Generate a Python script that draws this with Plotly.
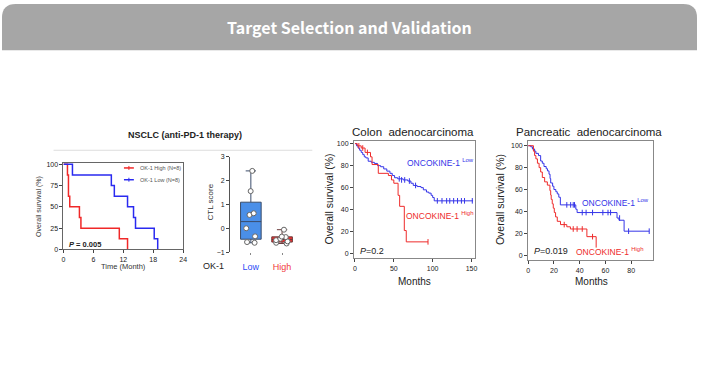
import plotly.graph_objects as go

# ---------------- data ----------------
# NSCLC (anti-PD-1) Kaplan-Meier (months, % survival)
nsclc_high_t = [0, 0.8, 1.0, 1.26, 3.2, 3.5, 11.2, 12.85]
nsclc_high_s = [100, 87.5, 62.5, 50, 37.5, 25, 12.5, 0]
nsclc_low_t = [0, 1.8, 9.6, 10.2, 12.85, 14.05, 14.45, 18.2, 18.9]
nsclc_low_s = [100, 87.5, 75, 62.5, 50, 37.5, 25, 12.5, 0]
nsclc_ticks = [0, 6, 12, 18, 24]
nsclc_yticks = [0, 25, 50, 75, 100]
nsclc_legend = ["OK-1 High (N=8)", "OK-1 Low (N=8)"]

# CTL score box plot
ctl_groups = ["Low", "High"]
ctl_low = [2.41, 1.56, 0.63, 0.56, 0.0, -0.34, -0.58, -0.61]
ctl_high = [-0.06, -0.35, -0.37, -0.44, -0.50, -0.55, -0.61, -0.64]
ctl_yticks = [-1, 0, 1, 2, 3]

# Colon adenocarcinoma KM
colon_low_t = [0, 2, 4, 6, 8, 10, 12, 14, 17, 21, 25, 29, 33, 37, 41, 45, 48, 51, 55,
               62, 68, 72, 75, 80, 85, 88, 92, 95, 98, 100, 102, 152]
colon_low_s = [100, 98, 96, 94, 92, 90, 88, 87, 84, 83, 82, 80, 79, 77, 75, 73, 71, 69, 68,
               67, 66, 64, 62, 61, 60, 58, 56, 55, 53, 51, 48, 48]
colon_low_cens_t = [57, 60, 64, 70, 78, 106, 112, 118, 122, 127, 132, 137, 141, 151]
colon_low_cens_s = [68, 67, 67, 66, 62, 48, 48, 48, 48, 48, 48, 48, 48, 48]
colon_high_t = [0, 3, 8, 13, 20, 22, 30, 43, 47, 50, 55.5, 57.5, 63.5, 66, 94]
colon_high_s = [100, 98, 96, 92, 88, 81, 73, 71, 67, 64, 53, 43, 21, 10.7, 10.7]
colon_high_cens_t = [5, 10, 16, 94]
colon_high_cens_s = [98, 96, 92, 10.7]
colon_xticks = [0, 50, 100, 150]
colon_yticks = [0, 20, 40, 60, 80, 100]

# Pancreatic adenocarcinoma KM
panc_low_t = [0, 2, 3.3, 5, 6, 8, 9.7, 11, 12.3, 14, 15, 16.2, 17, 17.5, 19, 20, 21.5,
              22.6, 23.8, 25, 37, 38, 69, 70.5, 74.5, 94]
panc_low_s = [100, 99, 97, 95, 93, 91, 86, 84, 81, 79, 77, 74, 70, 66, 63, 60, 58,
              56, 53, 46, 42, 39, 34, 32, 22, 22]
panc_low_cens_t = [30, 33, 35, 36, 42, 45, 50, 58, 62, 64, 71, 78, 94]
panc_low_cens_s = [46, 46, 46, 46, 39, 39, 39, 39, 39, 39, 34, 22, 22]
panc_high_t = [0, 4.1, 5, 6, 7.2, 8.5, 9.7, 11, 12.8, 14.9, 16.9, 17.5, 17.9, 18.7,
               19.5, 20.3, 21.3, 22.6, 25.1, 30, 32.8, 45.6, 52.8]
panc_high_s = [100, 95, 91, 88, 84, 80, 76, 71, 67, 64, 59, 55, 51, 47,
               43, 39, 35, 31, 28, 26, 24, 17, 7]
panc_high_cens_t = [28, 35, 38, 42, 50]
panc_high_cens_s = [28, 24, 24, 24, 17]
panc_xticks = [0, 20, 40, 60, 80]
panc_yticks = [0, 20, 40, 60, 80, 100]

# ---------------- styling ----------------
W, H = 701, 382
FONT = "Arial, Liberation Sans, sans-serif"
RED = "#f02828"
BLUE = "#2a2af0"
RED_K = "#ee2b2b"
BLUE_K = "#3434e8"


def fx(p):
    return p / W


def fy(p):
    return 1 - p / H


fig = go.Figure()

# NSCLC
fig.add_trace(go.Scatter(x=nsclc_high_t, y=nsclc_high_s, mode="lines",
                         line=dict(color=RED, width=1.5, shape="hv"),
                         name=nsclc_legend[0], xaxis="x", yaxis="y", showlegend=False))
fig.add_trace(go.Scatter(x=nsclc_low_t, y=nsclc_low_s, mode="lines",
                         line=dict(color=BLUE, width=1.5, shape="hv"),
                         name=nsclc_legend[1], xaxis="x", yaxis="y", showlegend=False))

# CTL box plot
fig.add_trace(go.Box(y=ctl_low, x=[ctl_groups[0]] * len(ctl_low), xaxis="x2", yaxis="y2",
                     quartilemethod="exclusive", boxpoints="all", jitter=0.7, pointpos=0,
                     fillcolor="#4a8fe8", line=dict(color="#3b4d6b", width=1),
                     marker=dict(color="white", size=5, line=dict(color="#666", width=1)),
                     width=0.66, whiskerwidth=0.5, showlegend=False))
fig.add_trace(go.Box(y=ctl_high, x=[ctl_groups[1]] * len(ctl_high), xaxis="x2", yaxis="y2",
                     quartilemethod="exclusive", boxpoints="all", jitter=0.9, pointpos=0,
                     fillcolor="#f03232", line=dict(color="#6a3b3b", width=1),
                     marker=dict(color="white", size=5, line=dict(color="#666", width=1)),
                     width=0.66, whiskerwidth=0.5, showlegend=False))

# Colon
for t, s, ct, cs, c in [(colon_low_t, colon_low_s, colon_low_cens_t, colon_low_cens_s, BLUE_K),
                        (colon_high_t, colon_high_s, colon_high_cens_t, colon_high_cens_s, RED_K)]:
    fig.add_trace(go.Scatter(x=t, y=s, mode="lines", line=dict(color=c, width=1, shape="hv"),
                             xaxis="x3", yaxis="y3", showlegend=False))
    fig.add_trace(go.Scatter(x=ct, y=cs, mode="markers", xaxis="x3", yaxis="y3", showlegend=False,
                             marker=dict(symbol="line-ns-open", size=4, color=c,
                                         line=dict(color=c, width=1))))

# Pancreatic
for t, s, ct, cs, c in [(panc_low_t, panc_low_s, panc_low_cens_t, panc_low_cens_s, BLUE_K),
                        (panc_high_t, panc_high_s, panc_high_cens_t, panc_high_cens_s, RED_K)]:
    fig.add_trace(go.Scatter(x=t, y=s, mode="lines", line=dict(color=c, width=1, shape="hv"),
                             xaxis="x4", yaxis="y4", showlegend=False))
    fig.add_trace(go.Scatter(x=ct, y=cs, mode="markers", xaxis="x4", yaxis="y4", showlegend=False,
                             marker=dict(symbol="line-ns-open", size=4, color=c,
                                         line=dict(color=c, width=1))))

axis_common = dict(showgrid=False, zeroline=False, ticks="outside", ticklen=3,
                   tickcolor="#444", tickwidth=1, showline=True, linewidth=1,
                   tickfont=dict(family=FONT, size=7, color="#222"))

layout = dict(
    width=W, height=H, autosize=False,
    margin=dict(l=0, r=0, t=0, b=0),
    paper_bgcolor="white", plot_bgcolor="white",
    font=dict(family=FONT, color="#222"),
    showlegend=False,
    xaxis=dict(axis_common, domain=[fx(62), fx(182.7)], range=[0, 24], tickvals=nsclc_ticks,
               anchor="y", linecolor="#666", mirror=True),
    yaxis=dict(axis_common, domain=[fy(250), fy(161.7)], range=[0, 101.8], tickvals=nsclc_yticks,
               anchor="x", linecolor="#666", mirror=True),
    xaxis2=dict(axis_common, domain=[fx(230), fx(300)], range=[-0.667, 1.556], type="category",
                categoryorder="array", categoryarray=ctl_groups,
                tickvals=ctl_groups,
                ticktext=['<span style="color:#2d4cf5">Low</span>',
                          '<span style="color:#f03a3a">High</span>'],
                showline=False, ticklen=2, tickcolor="#888", ticklabelstandoff=4,
                tickfont=dict(family=FONT, size=9), anchor="y2"),
    yaxis2=dict(axis_common, domain=[fy(252.7), fy(155.7)], range=[-1, 3], tickvals=ctl_yticks,
                linecolor="#555", anchor="x2"),
    xaxis3=dict(axis_common, domain=[fx(355), fx(476.7)], range=[-1.3, 154], tickvals=colon_xticks,
                linecolor="#888", mirror=True, anchor="y3"),
    yaxis3=dict(axis_common, domain=[fy(259), fy(140)], range=[-4.2, 102], tickvals=colon_yticks,
                linecolor="#888", mirror=True, anchor="x3"),
    xaxis4=dict(axis_common, domain=[fx(530.7), fx(656.7)], range=[0, 97], tickvals=panc_xticks,
                linecolor="#888", mirror=True, anchor="y4"),
    yaxis4=dict(axis_common, domain=[fy(261), fy(140)], range=[-4.5, 103.9], tickvals=panc_yticks,
                linecolor="#888", mirror=True, anchor="x4"),
)
fig.update_layout(layout)

# header band with rounded top corners
rx, ry = 14 / W, 14 / H
yb = fy(47)
fig.add_shape(type="path", xref="paper", yref="paper", layer="below",
              path=f"M 0,{yb} L 0,{1-ry} Q 0,1 {rx},1 L {1-rx},1 Q 1,1 1,{1-ry} L 1,{yb} Z",
              fillcolor="#a6a6a6", line=dict(width=0))
# separator under NSCLC title
fig.add_shape(type="line", xref="paper", yref="paper", x0=fx(52), x1=fx(313), y0=fy(149), y1=fy(149),
              line=dict(color="#dddddd", width=1))

# NSCLC legend key (decoration)
for i, (lbl, col) in enumerate(zip(nsclc_legend, [RED, BLUE])):
    yy = 167 + 12 * i
    fig.add_shape(type="line", xref="paper", yref="paper", x0=fx(123), x1=fx(133),
                  y0=fy(yy), y1=fy(yy), line=dict(color=col, width=1.5))
    fig.add_shape(type="line", xref="paper", yref="paper", x0=fx(128), x1=fx(128),
                  y0=fy(yy - 2), y1=fy(yy + 2), line=dict(color=col, width=1))
    fig.add_annotation(text=lbl, x=fx(137), y=fy(yy), xref="paper", yref="paper",
                       xanchor="left", yanchor="middle", showarrow=False,
                       font=dict(family=FONT, size=5.5, color="#555"))


def ann(text, x, y, size, color="#222", xanchor="center", angle=0, family=FONT):
    fig.add_annotation(text=text, x=fx(x), y=fy(y), xref="paper", yref="paper",
                       xanchor=xanchor, yanchor="middle", showarrow=False, textangle=angle,
                       font=dict(family=family, size=size, color=color))


ann("<b>Target Selection and Validation</b>", 350.5, 23, 16, "white",
    family="Noto Sans CJK KR, Noto Sans, sans-serif")

# NSCLC texts
ann("<b>NSCLC (anti-PD-1 therapy)</b>", 185, 133, 9)
ann("<b><i>P</i> = 0.005</b>", 66, 245, 7.5, xanchor="left")
ann("Overall survival (%)", 38, 206, 7, "#333", angle=-90)
ann("Time (Month)", 123, 267, 7.5, "#333")

# CTL texts
ann("CTL score", 210, 202, 8, "#333", angle=-90)
ann("OK-1", 213, 266.7, 9, "#222")

# Colon texts
ann("Colon  adenocarcinoma", 415, 130, 11.5)
ann("Overall survival (%)", 330, 199, 10.5, angle=-90)
ann("Months", 416, 283, 10)
ann("ONCOKINE-1 <sup>Low</sup>", 406.7, 161, 8.5, BLUE_K, xanchor="left")
ann("ONCOKINE-1 <sup>High</sup>", 405, 215, 8.5, RED_K, xanchor="left")
ann("<i>P</i>=0.2", 359, 251.7, 9, xanchor="left")

# Pancreatic texts
ann("Pancreatic  adenocarcinoma", 591.7, 130, 11.5)
ann("Overall survival (%)", 503, 199, 10.5, angle=-90)
ann("Months", 595, 283, 10)
ann("ONCOKINE-1 <sup>Low</sup>", 582.7, 202.3, 8.5, BLUE_K, xanchor="left")
ann("ONCOKINE-1 <sup>High</sup>", 576.7, 251.7, 8.5, RED_K, xanchor="left")
ann("<i>P</i>=0.019", 535, 251.7, 9, xanchor="left")

fig.write_html("out.html", config={"displayModeBar": False},
               post_script="document.body.style.margin='0px';")
